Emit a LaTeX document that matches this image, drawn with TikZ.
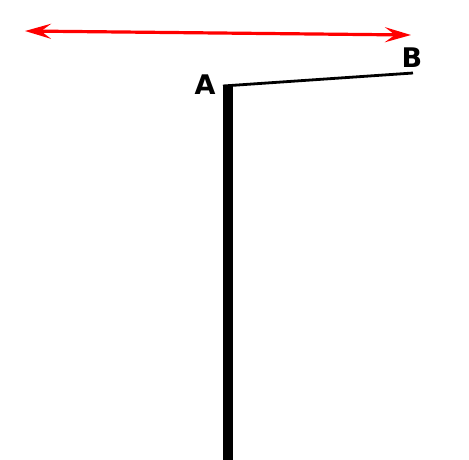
\documentclass[tikz,border=0pt]{standalone}
\usepackage{fontspec}
\setmainfont{DejaVu Sans}
\usetikzlibrary{arrows.meta}
\begin{document}
\begin{tikzpicture}[x=1pt,y=-1pt,
  lbl/.style={font=\bfseries\fontsize{27}{30}\selectfont, inner sep=0pt},
  redarrow/.style={red, line width=3.2pt, {Stealth[length=26pt,width=15pt,inset=10pt]}-{Stealth[length=26pt,width=15pt,inset=10pt]}},
  pole/.style={line width=10pt},
  wire/.style={line width=2.8pt}]
\useasboundingbox (0,0) rectangle (469,459);
\coordinate (L) at (25,31);
\coordinate (R) at (411,35);
\coordinate (top) at (228,86);
\coordinate (bot) at (228,462);
\coordinate (bend) at (413,73);
\coordinate (wstart) at (223,86);
\draw[redarrow] (L) -- (R);
\draw[pole] (top) -- (bot);
\draw[wire] (wstart) -- (bend);
\node[lbl] (A) at (205,85) {A};
\node[lbl] (B) at (412,57.5) {B};
\end{tikzpicture}
\end{document}
